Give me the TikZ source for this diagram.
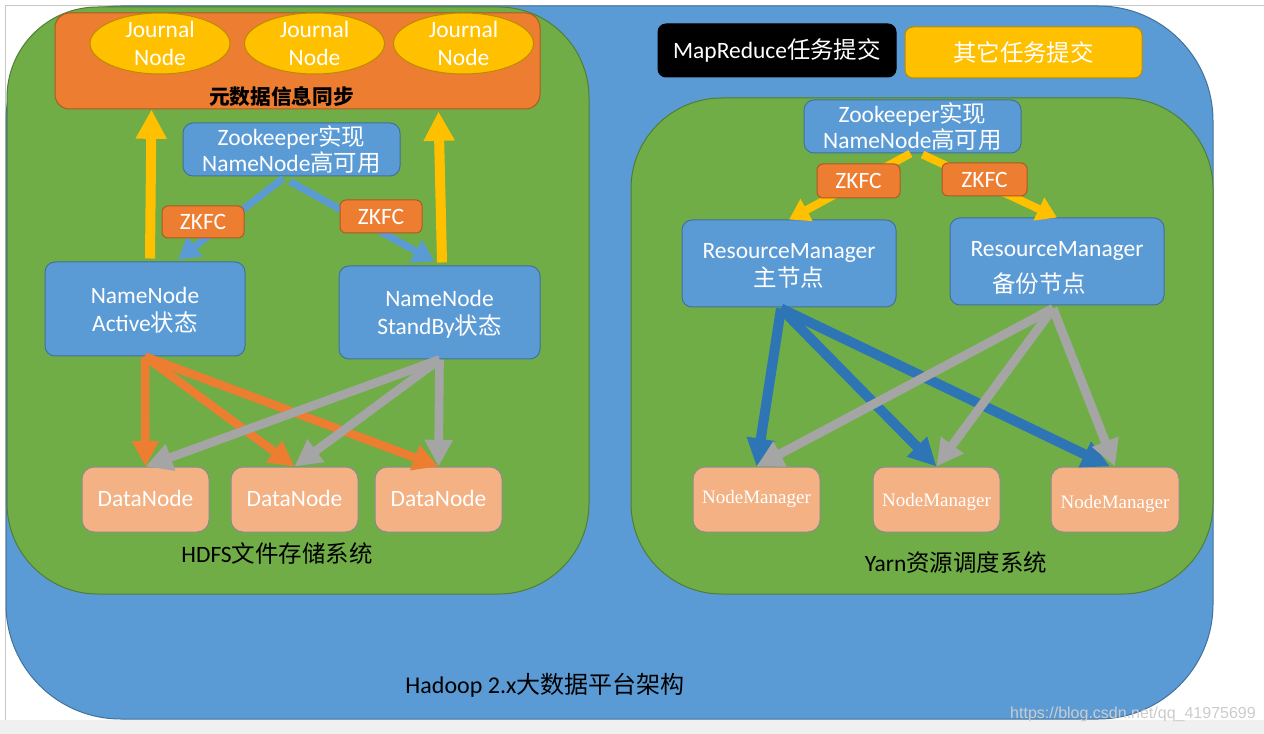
\documentclass[tikz,border=0pt]{standalone}
\usepackage{fontspec}
\setmainfont{Carlito}
\newfontfamily\cjk{Noto Sans CJK SC}
\newfontfamily\nmfont{Liberation Serif}
\newfontfamily\wmfont{Liberation Sans}
\usetikzlibrary{arrows.meta,fit,calc,shapes.geometric}
\definecolor{cblue}{HTML}{5B9BD5}
\definecolor{cbluedk}{HTML}{41719C}
\definecolor{cgreen}{HTML}{70AD47}
\definecolor{cgreendk}{HTML}{507E32}
\definecolor{corange}{HTML}{ED7D31}
\definecolor{corangedk}{HTML}{AE5A21}
\definecolor{cyellow}{HTML}{FFC000}
\definecolor{cyellowdk}{HTML}{BC8C00}
\definecolor{cpeach}{HTML}{F4B183}
\definecolor{cpeachdk}{HTML}{8C8C8C}
\definecolor{cgray}{HTML}{A5A5A5}
\definecolor{cnavy}{HTML}{2E75B6}
\definecolor{cband}{HTML}{F0F0F0}
\definecolor{cframe}{HTML}{C8C8C8}
\newcommand\txtsz{\fontsize{17.6pt}{21pt}\selectfont}
\newcommand\nmsz{\nmfont\fontsize{14.25pt}{17pt}\selectfont}
\tikzset{
  platformbox/.style={draw=cbluedk, fill=cblue, line width=0.75pt, rounded corners=86pt, inner sep=0pt},
  greenbox/.style={draw=cgreendk, fill=cgreen, line width=0.75pt, rounded corners=68pt, inner sep=0pt},
  metabox/.style={draw=corangedk, fill=corange, line width=0.75pt, rounded corners=11pt, inner sep=0pt},
  bluebox/.style={draw=cbluedk, fill=cblue, line width=0.75pt, rounded corners=7.5pt, inner sep=0pt},
  zkfcbox/.style={draw=corangedk, fill=corange, line width=0.75pt, rounded corners=4.5pt, inner sep=0pt},
  peachbox/.style={draw=cpeachdk, fill=cpeach, line width=0.75pt, rounded corners=9pt, inner sep=0pt},
  blackbox/.style={draw=black, fill=black, line width=0.75pt, rounded corners=6pt, inner sep=0pt},
  yellowbox/.style={draw=cyellowdk, fill=cyellow, line width=0.75pt, rounded corners=6pt, inner sep=0pt},
  jnode/.style={ellipse, draw=cyellowdk, fill=cyellow, line width=0.75pt, minimum width=105pt, minimum height=45.75pt, inner sep=0pt},
  wtext/.style={text=white, align=center, inner sep=0pt, font=\txtsz},
  lbl/.style={text=black, inner sep=0pt, font=\txtsz},
  yarr/.style={draw=cyellow, line width=7.5pt, -{Triangle[length=22pt,width=22pt]}},
  barr/.style={draw=cblue, line width=5.25pt, -{Triangle[length=16pt,width=18pt]}},
  oarr/.style={draw=corange, line width=6.3pt, -{Triangle[length=19pt,width=19pt]}},
  garr/.style={draw=cgray, line width=6.5pt, -{Triangle[length=20pt,width=20pt]}},
  yarrb/.style={draw=cyellow, line width=6pt, -{Triangle[length=15pt,width=18pt]}},
  narr/.style={draw=cnavy, line width=7.5pt, -{Triangle[length=21pt,width=20pt]}},
  garrb/.style={draw=cgray, line width=6.75pt, -{Triangle[length=20pt,width=20pt]}},
}
\begin{document}
\begin{tikzpicture}[x=0.75pt,y=-0.75pt]
\useasboundingbox (0,0) rectangle (1264,734);
\fill[white] (0,0) rectangle (1264,734);
\fill[cband] (0,720) rectangle (1264,734);
\draw[cframe, line width=0.75pt] (5.5,720) -- (5.5,5.5) -- (1264,5.5);

% containers
\node[platformbox, fit={(6,6) (1213,719)}] (platform) {};
\node[greenbox, fit={(7,7) (589,594)}] (hdfs) {};
\node[greenbox, fit={(631,98) (1213,594)}] (yarn) {};

% HDFS part
\node[metabox, fit={(55,13) (540,109)}] (meta) {};
\node[jnode] (jn1) at (160,43.5) {};
\node[jnode] (jn2) at (314.5,43.5) {};
\node[jnode] (jn3) at (463.5,43.5) {};
\node[wtext] (jn1t) at (jn1.center) {Journal\\Node};
\node[wtext] (jn2t) at (jn2.center) {Journal\\Node};
\node[wtext] (jn3t) at (jn3.center) {Journal\\Node};
\node[lbl, font={\cjk\bfseries\fontsize{15.5pt}{18pt}\selectfont}] (metat) at (281.5,97) {元数据信息同步};

\node[bluebox, fit={(183,123) (400,176)}] (zkL) {};
\node[wtext, font={\fontsize{17.6pt}{19.5pt}\selectfont}] (zkLt) at (zkL.center) {Zookeeper{\cjk 实现}\\NameNode{\cjk 高可用}};
\node[bluebox, fit={(45,262) (245,356)}] (nnA) {};
\node[wtext] (nnAt) at ($(nnA.center)+(0,1.5)$) {NameNode\\Active{\cjk 状态}};
\node[bluebox, fit={(339,266) (540,359)}] (nnS) {};
\node[wtext] (nnSt) at ($(nnS.center)+(0,1.5)$) {NameNode\\StandBy{\cjk 状态}};
\node[peachbox, fit={(82,467) (209,532)}] (dn1) {};
\node[peachbox, fit={(231,467) (358,532)}] (dn2) {};
\node[peachbox, fit={(375,467) (502,532)}] (dn3) {};
\node[wtext] (dn1t) at ($(dn1.center)+(0,-1)$) {DataNode};
\node[wtext] (dn2t) at ($(dn2.center)+(0,-1)$) {DataNode};
\node[wtext] (dn3t) at ($(dn3.center)+(0,-1)$) {DataNode};
\node[lbl] (hdfsl) at (277,553) {HDFS{\cjk 文件存储系统}};

% Yarn part
\node[blackbox, fit={(658,24) (896,77)}] (mr) {};
\node[wtext] (mrt) at (mr.center) {MapReduce{\cjk 任务提交}};
\node[yellowbox, fit={(905,27) (1142,78)}] (other) {};
\node[wtext] (othert) at (other.center) {\cjk 其它任务提交};
\node[bluebox, fit={(804,100) (1021,153)}] (zkR) {};
\node[wtext, font={\fontsize{17.6pt}{19.5pt}\selectfont}] (zkRt) at (zkR.center) {Zookeeper{\cjk 实现}\\NameNode{\cjk 高可用}};
\node[bluebox, fit={(682,220) (896,307)}] (rm1) {};
\node[wtext] (rm1t) at ($(rm1.center)+(0,2.5)$) {ResourceManager\\{\cjk 主节点}};
\node[bluebox, fit={(950,218) (1164,305)}] (rm2) {};
\node[wtext, font={\fontsize{17.6pt}{27pt}\selectfont}] (rm2t) at ($(rm2.center)+(0,6.5)$) {ResourceManager\\{\cjk 备份节点}\makebox[27pt]{}};
\node[peachbox, fit={(693,467) (820,532)}] (nm1) {};
\node[peachbox, fit={(873,467) (1000,532)}] (nm2) {};
\node[peachbox, fit={(1051,467) (1179,532)}] (nm3) {};
\node[wtext, font=\nmsz] (nm1t) at ($(nm1.center)+(0,-1)$) {NodeManager};
\node[wtext, font=\nmsz] (nm2t) at ($(nm2.center)+(0,2.5)$) {NodeManager};
\node[wtext, font=\nmsz] (nm3t) at ($(nm3.center)+(0,4.5)$) {NodeManager};
\node[lbl] (yarnl) at (956,563) {Yarn{\cjk 资源调度系统}};

\node[lbl, font={\fontsize{18pt}{21pt}\selectfont}] (hadoopl) at (545,685) {Hadoop 2.x{\cjk 大数据平台架构}};

% HDFS connectors
\draw[yarr] ($(nnA.north)+(5,-3)$) -- ($(meta.south west)+(97,0)$);
\draw[yarr] ($(nnS.north)+(2.5,-3)$) -- ($(meta.south west)+(384,2)$);
\draw[barr] ($(zkL.south)+(-8.5,2)$) -- ($(nnA.north)+(33,-2)$);
\draw[barr] ($(zkL.south)+(-1.5,5)$) -- ($(nnS.north)+(-5,-4)$);
\draw[oarr] (nnA.south) -- (dn1.north);
\draw[oarr] (nnA.south) -- (dn2.north);
\draw[oarr] (nnA.south) -- (dn3.north);
\draw[garr] (nnS.south) -- (dn1.north);
\draw[garr] (nnS.south) -- (dn2.north);
\draw[garr] (nnS.south) -- (dn3.north);

% Yarn connectors
\draw[yarrb] ($(zkR.south)+(-2,0)$) -- (rm1.north);
\draw[yarrb] ($(zkR.south)+(10,1)$) -- (rm2.north);
\draw[narr] ($(rm1.south)+(-8,1)$) -- (nm1.north);
\draw[narr] ($(rm1.south)+(-8,1)$) -- (nm2.north);
\draw[narr] ($(rm1.south)+(-8,1)$) -- ($(nm3.north)+(-5,0)$);
\draw[garrb] ($(rm2.south)+(-4,3)$) -- (nm1.north);
\draw[garrb] ($(rm2.south)+(-4,3)$) -- (nm2.north);
\draw[garrb] ($(rm2.south)+(-4,3)$) -- (nm3.north);

% ZKFC boxes on top of their connectors
\node[zkfcbox, fit={(162,206) (244,238)}] (zkfcL1) {};
\node[zkfcbox, fit={(340,200) (422,233)}] (zkfcL2) {};
\node[zkfcbox, fit={(817,164) (900,198)}] (zkfcR1) {};
\node[zkfcbox, fit={(942,163) (1027,196)}] (zkfcR2) {};
\node[wtext] (zkfcL1t) at (zkfcL1.center) {ZKFC};
\node[wtext] (zkfcL2t) at (zkfcL2.center) {ZKFC};
\node[wtext] (zkfcR1t) at (zkfcR1.center) {ZKFC};
\node[wtext] (zkfcR2t) at (zkfcR2.center) {ZKFC};

% watermark
\node[inner sep=0pt, text=gray!40, font={\wmfont\fontsize{12pt}{14pt}\selectfont}] (wm) at (1133,714) {https://blog.csdn.net/qq\_41975699};
\end{tikzpicture}
\end{document}
